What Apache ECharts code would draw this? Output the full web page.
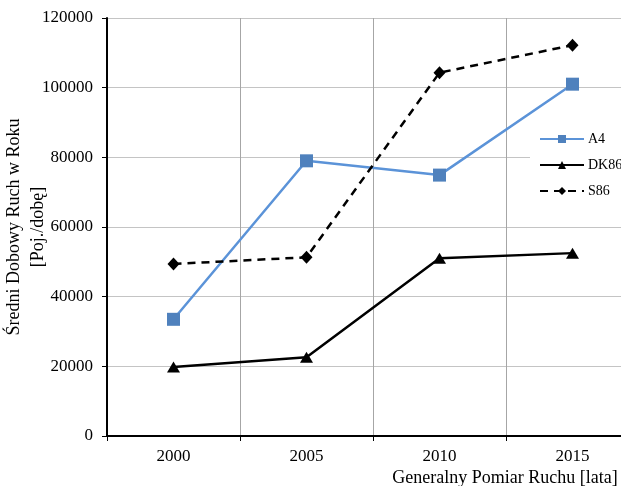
<!DOCTYPE html>
<html>
<head>
<meta charset="utf-8">
<script src="https://cdn.jsdelivr.net/npm/echarts@6/dist/echarts.min.js"></script>
<style>
  html, body { margin: 0; padding: 0; background: #fff; overflow: hidden; width: 621px; height: 486px; }
  #chart { width: 680px; height: 486px; }
</style>
</head>
<body>
<div id="chart"></div>
<script>
// Survey years (Generalny Pomiar Ruchu)
const years = ['2000', '2005', '2010', '2015'];

// Average daily traffic [vehicles/day] per road
const a4 = [33500, 79000, 74900, 101000];
const dk86 = [19800, 22600, 51000, 52500];
const s86 = [49400, 51300, 104300, 112200];

const yTicks = { min: 0, max: 120000, interval: 20000 };

const FONT = '"Liberation Serif", "Times New Roman", serif';

const chart = echarts.init(document.getElementById('chart'), null, { renderer: 'canvas' });

chart.setOption({
  animation: false,
  backgroundColor: '#fff',
  textStyle: { fontFamily: FONT, color: '#000' },
  grid: { left: 107, top: 18, width: 532, height: 418, containLabel: false, outerBoundsMode: 'none' },
  xAxis: {
    type: 'category',
    data: years,
    boundaryGap: true,
    axisLine: { show: true, lineStyle: { color: '#000', width: 2 } },
    axisTick: { show: true, alignWithLabel: false, length: 5, lineStyle: { color: '#000', width: 1 } },
    axisLabel: { fontFamily: FONT, fontSize: 17, color: '#000', margin: 12 },
    splitLine: { show: true, lineStyle: { color: '#a6a6a6', width: 1 } }
  },
  yAxis: {
    type: 'value',
    min: yTicks.min,
    max: yTicks.max,
    interval: yTicks.interval,
    axisLine: { show: true, lineStyle: { color: '#000', width: 2 } },
    axisTick: { show: true, length: 5, lineStyle: { color: '#000', width: 1 } },
    axisLabel: { fontFamily: FONT, fontSize: 17, color: '#000', margin: 14, formatter: (v) => String(v) },
    splitLine: { show: true, lineStyle: { color: '#c4c4c4', width: 1 } }
  },
  legend: {
    orient: 'vertical',
    left: 530,
    top: 122,
    padding: [10, 30, 10, 9],
    backgroundColor: '#fff',
    itemWidth: 44,
    itemHeight: 10,
    itemGap: 12,
    textStyle: { fontFamily: FONT, fontSize: 14, color: '#000', padding: [0, 0, 0, -1] },
    data: ['A4', 'DK86', 'S86']
  },
  series: [
    {
      name: 'A4',
      type: 'line',
      data: a4,
      symbol: 'rect',
      symbolSize: 13,
      lineStyle: { color: '#5b93d8', width: 2.5 },
      itemStyle: { color: '#4f81bd' },
      z: 3
    },
    {
      name: 'DK86',
      type: 'line',
      data: dk86,
      symbol: 'triangle',
      symbolSize: [13, 11],
      lineStyle: { color: '#000', width: 2.5 },
      itemStyle: { color: '#000' },
      z: 3
    },
    {
      name: 'S86',
      type: 'line',
      data: s86,
      symbol: 'diamond',
      symbolSize: [12, 13],
      lineStyle: { color: '#000', width: 2.5, type: [8, 6] },
      itemStyle: { color: '#000' },
      z: 3
    }
  ],
  graphic: [
    {
      type: 'text',
      x: 26,
      y: 227,
      rotation: Math.PI / 2,
      style: {
        text: 'Średni Dobowy Ruch w Roku\n[Poj./dobę]',
        font: '18px ' + FONT,
        fill: '#000',
        align: 'center',
        verticalAlign: 'middle',
        lineHeight: 24
      }
    },
    {
      type: 'text',
      x: 505,
      y: 478,
      style: {
        text: 'Generalny Pomiar Ruchu [lata]',
        font: '18px ' + FONT,
        fill: '#000',
        align: 'center',
        verticalAlign: 'middle'
      }
    }
  ]
});
</script>
</body>
</html>
